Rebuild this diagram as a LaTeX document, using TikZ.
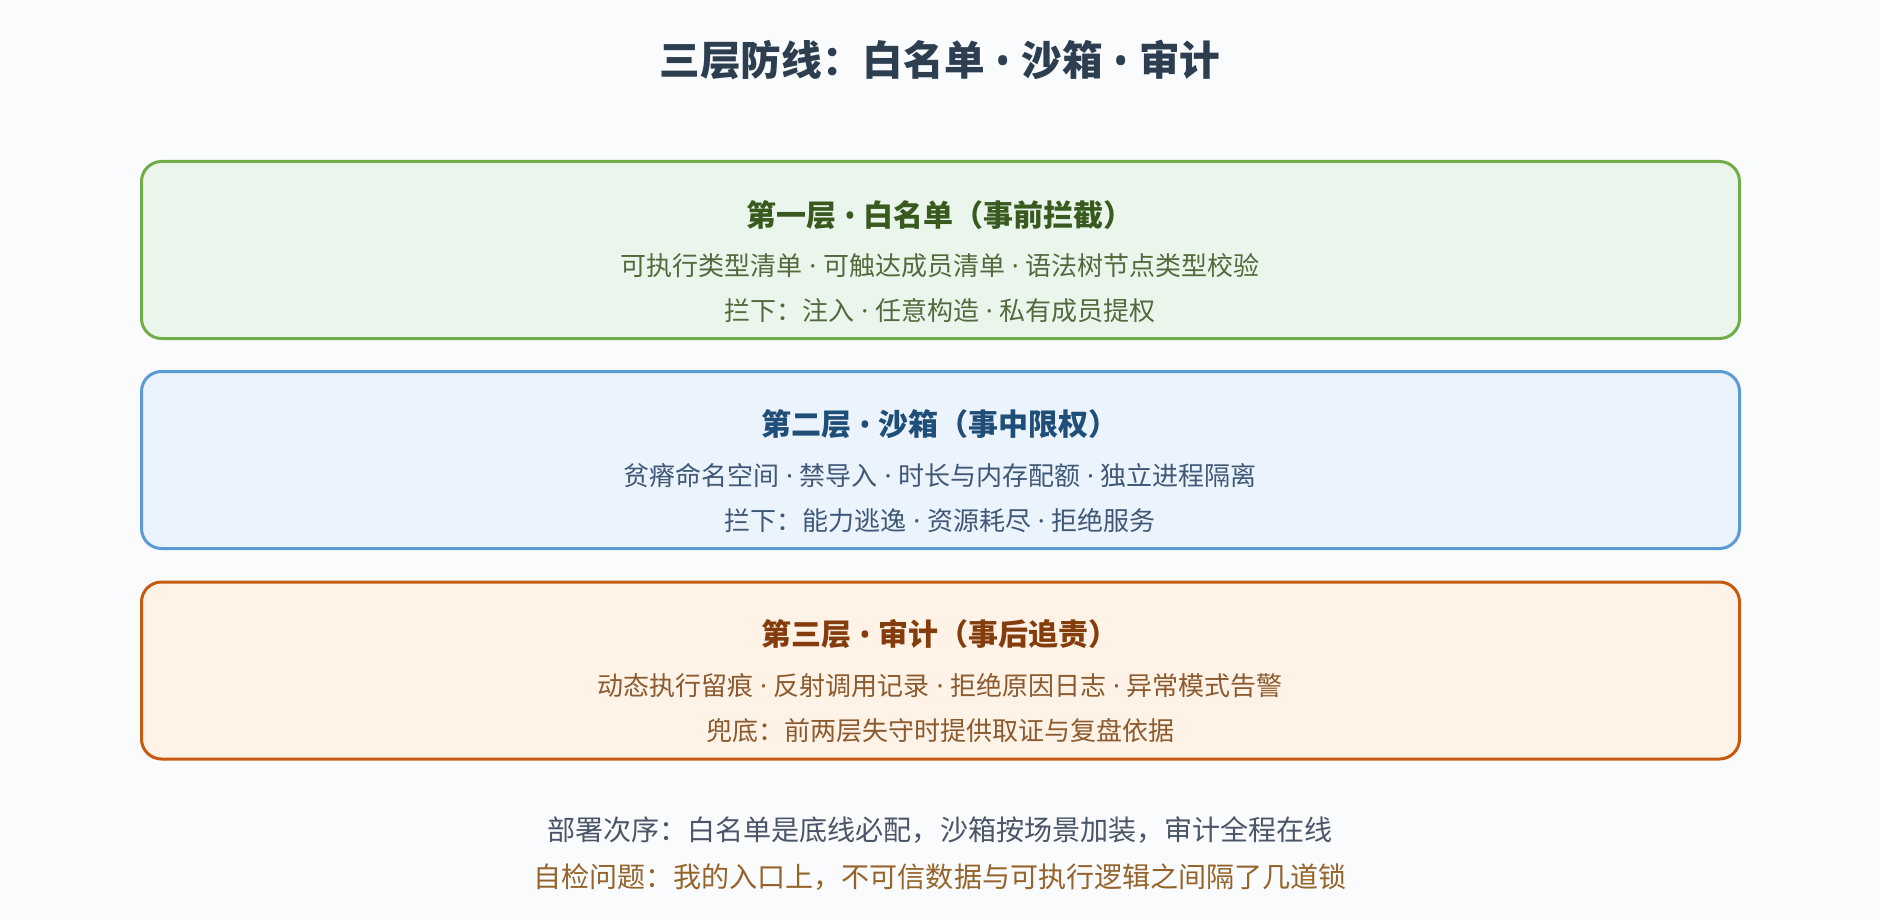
\documentclass[tikz,border=0pt]{standalone}
\usepackage{fontspec}
\setmainfont{Noto Sans CJK SC}
\newfontfamily\latinfont{Noto Sans}
\newcommand\sepmid{{\latinfont\ ·\ }}
\newcommand\sepbul{{\latinfont\ •\ }}
\definecolor{bg}{HTML}{F9FBFD}
\definecolor{titlec}{HTML}{2C3E50}
\definecolor{gfill}{HTML}{EAF6EC}
\definecolor{gdraw}{HTML}{70AD47}
\definecolor{ghead}{HTML}{385A1F}
\definecolor{gbody}{HTML}{53693D}
\definecolor{bfill}{HTML}{EBF3FC}
\definecolor{bdraw}{HTML}{5B9BD5}
\definecolor{bhead}{HTML}{1F4E79}
\definecolor{bbody}{HTML}{3F5878}
\definecolor{ofill}{HTML}{FEF3E6}
\definecolor{odraw}{HTML}{C55A11}
\definecolor{ohead}{HTML}{843C0C}
\definecolor{obody}{HTML}{8C5A2E}
\definecolor{foot}{HTML}{4A5568}
\definecolor{foottwo}{HTML}{96642A}
\begin{document}
\begin{tikzpicture}[x=0.75pt,y=-0.75pt,
  layerbox/.style={rounded corners=15pt,line width=2.25pt,minimum width=1198.5pt,minimum height=132.75pt,inner sep=0pt},
  titletext/.style={inner sep=0pt,font=\fontsize{30.5pt}{36pt}\selectfont\bfseries,text=titlec},
  headtext/.style={inner sep=0pt,font=\fontsize{22.5pt}{27pt}\selectfont\bfseries},
  bodytext/.style={inner sep=0pt,font=\fontsize{19.5pt}{24pt}\selectfont},
  foottext/.style={inner sep=0pt,font=\fontsize{21.05pt}{25pt}\selectfont}]
\fill[bg] (0,0) rectangle (1880,920);
\useasboundingbox (0,0) rectangle (1880,920);
\node[titletext] (title) at (940,60) {三层防线：白名单\sepbul 沙箱\sepbul 审计};
% layer 1
\node[layerbox,fill=gfill,draw=gdraw] (L1) at (940.5,250) {};
\node[headtext,text=ghead] (h1) at (940,215) {第一层\sepbul 白名单（事前拦截）};
\node[bodytext,text=gbody] (a1) at (940,266) {可执行类型清单\sepmid 可触达成员清单\sepmid 语法树节点类型校验};
\node[bodytext,text=gbody] (b1) at (940,311) {拦下：注入\sepmid 任意构造\sepmid 私有成员提权};
% layer 2
\node[layerbox,fill=bfill,draw=bdraw] (L2) at (940.5,460) {};
\node[headtext,text=bhead] (h2) at (940,424) {第二层\sepbul 沙箱（事中限权）};
\node[bodytext,text=bbody] (a2) at (940,476) {贫瘠命名空间\sepmid 禁导入\sepmid 时长与内存配额\sepmid 独立进程隔离};
\node[bodytext,text=bbody] (b2) at (940,521) {拦下：能力逃逸\sepmid 资源耗尽\sepmid 拒绝服务};
% layer 3
\node[layerbox,fill=ofill,draw=odraw] (L3) at (940.5,670.5) {};
\node[headtext,text=ohead] (h3) at (940,634) {第三层\sepbul 审计（事后追责）};
\node[bodytext,text=obody] (a3) at (940,686) {动态执行留痕\sepmid 反射调用记录\sepmid 拒绝原因日志\sepmid 异常模式告警};
\node[bodytext,text=obody] (b3) at (940,731) {兜底：前两层失守时提供取证与复盘依据};
% footer
\node[foottext,text=foot] (f1) at (940,830) {部署次序：白名单是底线必配，沙箱按场景加装，审计全程在线};
\node[foottext,text=foottwo] (f2) at (940,877) {自检问题：我的入口上，不可信数据与可执行逻辑之间隔了几道锁};
\end{tikzpicture}
\end{document}
